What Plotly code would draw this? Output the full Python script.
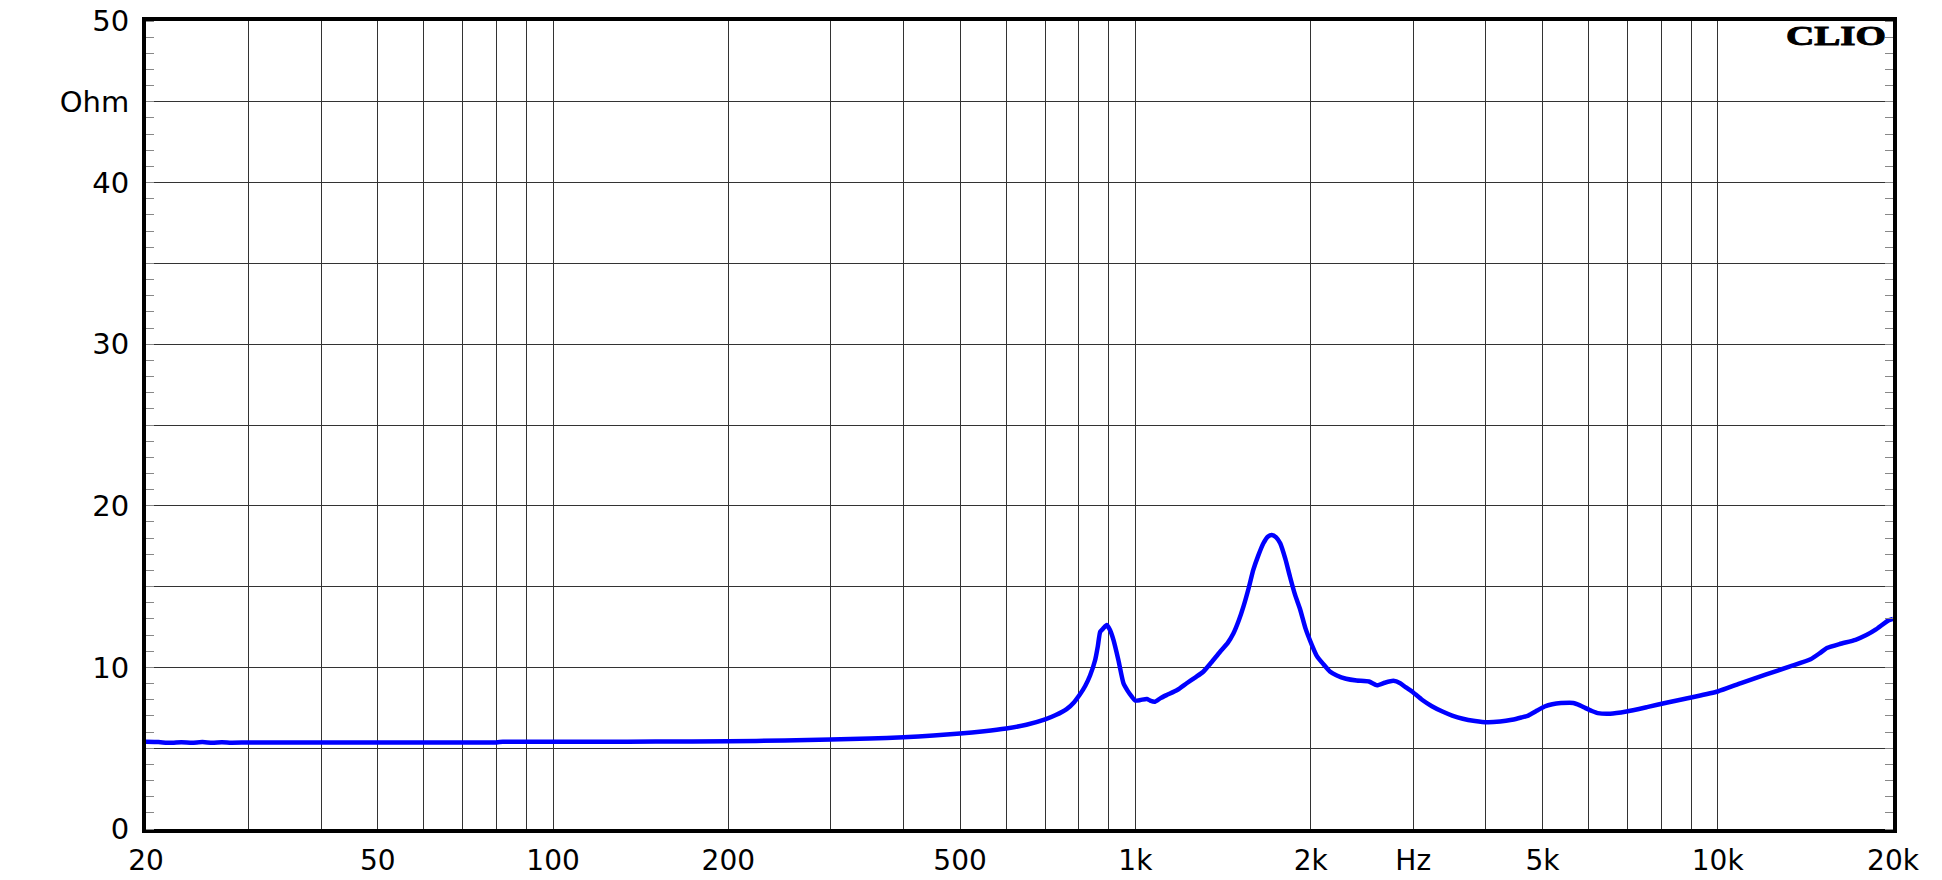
import math
import plotly.graph_objects as go

# ---- data ----
freq_hz = [20, 21, 22, 23, 24, 25, 26, 27, 28, 30, 40, 50, 60, 70, 80, 82, 100, 120, 150,
           200, 250, 300, 350, 400, 450, 500, 550, 600, 650, 700, 730, 762, 785, 804, 820,
           836, 853, 862, 870, 880, 893, 905, 917, 935, 954, 970, 986, 999, 1020, 1046,
           1060, 1081, 1105, 1132, 1180, 1225, 1270, 1308, 1350, 1398, 1440, 1474, 1505,
           1533, 1565, 1594, 1625, 1659, 1690, 1715, 1745, 1773, 1810, 1843, 1880, 1918,
           1960, 2009, 2050, 2103, 2158, 2218, 2300, 2398, 2518, 2600, 2680, 2774, 2850,
           2910, 3000, 3106, 3230, 3368, 3500, 3650, 3830, 4024, 4230, 4432, 4600, 4728,
           4880, 5044, 5200, 5380, 5650, 5800, 5930, 6080, 6224, 6536, 6972, 7560, 8198,
           9000, 10000, 10966, 12080, 13318, 14438, 15000, 15400, 16200, 17248, 18000,
           18700, 19640, 20000]
impedance_ohm = [5.40, 5.38, 5.33, 5.37, 5.34, 5.38, 5.33, 5.37, 5.34, 5.35, 5.35, 5.35,
                 5.35, 5.36, 5.36, 5.40, 5.40, 5.40, 5.41, 5.43, 5.48, 5.54, 5.60, 5.68,
                 5.78, 5.91, 6.05, 6.22, 6.45, 6.78, 7.05, 7.42, 7.85, 8.35, 8.85, 9.5,
                 10.46, 11.3, 12.2, 12.4, 12.62, 12.3, 11.70, 10.46, 9.02, 8.55, 8.19,
                 7.95, 7.98, 8.05, 7.95, 7.88, 8.1, 8.29, 8.6, 9.02, 9.4, 9.73, 10.3,
                 10.97, 11.5, 12.11, 12.9, 13.76, 14.9, 16.03, 16.9, 17.68, 18.1, 18.2,
                 18.05, 17.68, 16.7, 15.61, 14.5, 13.6, 12.4, 11.4, 10.7, 10.2, 9.75,
                 9.5, 9.3, 9.19, 9.13, 8.9, 9.05, 9.17, 9.02, 8.78, 8.45, 8.0, 7.6, 7.27,
                 7.02, 6.82, 6.68, 6.6, 6.65, 6.76, 6.9, 7.02, 7.3, 7.58, 7.72, 7.79, 7.8,
                 7.65, 7.48, 7.3, 7.17, 7.13, 7.27, 7.54, 7.83, 8.14, 8.51, 9.03, 9.55,
                 10.06, 10.5, 10.9, 11.2, 11.45, 11.71, 12.0, 12.35, 12.91, 13.0]

x_grid_vals = [20, 30, 40, 50, 60, 70, 80, 90, 100, 200, 300, 400, 500, 600, 700, 800, 900,
               1000, 2000, 3000, 4000, 5000, 6000, 7000, 8000, 9000, 10000, 20000]
x_grid_text = ["20", "", "", "50", "", "", "", "", "100", "200", "", "", "500",
               "", "", "", "", "1k", "2k", "Hz", "", "5k", "", "", "", "", "10k", "20k"]
y_tick_vals = [0, 5, 10, 15, 20, 25, 30, 35, 40, 45, 50]
y_tick_text = ["0", "", "10", "", "20", "", "30", "", "40", "Ohm", "50"]

fig = go.Figure()
fig.add_trace(go.Scatter(x=freq_hz, y=impedance_ohm, mode="lines",
                         line=dict(color="#0000FF", width=4.5, shape="spline", smoothing=0.5),
                         hoverinfo="skip"))

grid_color = "#333333"
fig.update_layout(
    width=1942, height=880,
    margin=dict(l=146, r=49, t=21, b=51),
    plot_bgcolor="white", paper_bgcolor="white",
    showlegend=False,
    font=dict(family="DejaVu Sans", size=28, color="black"),
    xaxis=dict(type="log", range=[math.log10(20), math.log10(20000)],
               tickmode="array", tickvals=x_grid_vals, ticktext=x_grid_text,
               showgrid=True, gridcolor=grid_color, gridwidth=1,
               showline=True, linecolor="black", linewidth=4, mirror=True,
               ticks="", zeroline=False, ticklabelstandoff=3, automargin=False),
    yaxis=dict(range=[0, 50], tickmode="array", tickvals=y_tick_vals, ticktext=y_tick_text,
               showgrid=True, gridcolor=grid_color, gridwidth=1,
               showline=True, linecolor="black", linewidth=4, mirror="ticks",
               ticks="", zeroline=False, ticklabelstandoff=7, automargin=False,
               tickfont=dict(size=29),
               minor=dict(tickmode="linear", tick0=0, dtick=1, ticks="inside",
                          ticklen=8, tickwidth=1, tickcolor="#888888", showgrid=False)),
    annotations=[dict(text="<b>CLIO</b>", xref="paper", yref="paper", x=1, y=1,
                      xanchor="right", yanchor="middle", xshift=-5, yshift=-15,
                      showarrow=False,
                      font=dict(family="Liberation Serif", size=27, color="black"))],
)

post = """
document.body.style.margin = '0';
document.body.style.overflow = 'hidden';
var t = document.querySelector('.annotation-text');
if (t) {
  t.style.transformBox = 'fill-box';
  t.style.transformOrigin = '100% 50%';
  t.style.transform = 'scaleX(1.45)';
  t.style.stroke = 'black';
  t.style.strokeWidth = '0.9px';
}
"""

fig.write_html("out.html", config={"displayModeBar": False}, post_script=post)
